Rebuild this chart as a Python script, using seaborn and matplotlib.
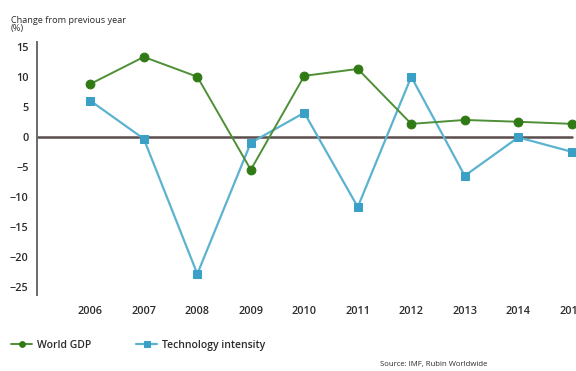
import matplotlib
matplotlib.use("Agg")
import matplotlib.pyplot as plt
import seaborn as sns
import pandas as pd

years = [2006, 2007, 2008, 2009, 2010, 2011, 2012, 2013, 2014, 2015]
world_gdp = [8.9, 13.4, 10.1, -5.4, 10.25, 11.4, 2.25, 2.9, 2.6, 2.25]
tech_intensity = [6.1, -0.25, -22.75, -0.9, 4.1, -11.6, 10.1, -6.4, 0.0, -2.4]
y_ticks = [15, 10, 5, 0, -5, -10, -15, -20, -25]

sns.set_theme(style="white")
plt.rcParams["font.family"] = ["Open Sans", "DejaVu Sans"]

green_line = "#4e8f37"
green_mark = "#2f7a14"
blue_line = "#5bb3cf"
blue_mark = "#3aa0c6"
text_col = "#2b2b2b"

df = pd.DataFrame({
    "year": years * 2,
    "value": world_gdp + tech_intensity,
    "series": ["World GDP"] * len(years) + ["Technology intensity"] * len(years),
})

fig = plt.figure(figsize=(5.76, 3.71), dpi=100)
ax = fig.add_axes([0.064, 0.205, 0.936, 0.682])

ax.axhline(0, xmin=0, xmax=(2015 - 2005) / (2015.08 - 2005), color="#5a4d4d", lw=1.8, zorder=1)

sns.lineplot(data=df[df.series == "World GDP"], x="year", y="value", ax=ax,
             color=green_line, lw=1.4, marker="o", markersize=6.3,
             markerfacecolor=green_mark, markeredgecolor=green_mark,
             label="World GDP", zorder=3)
sns.lineplot(data=df[df.series == "Technology intensity"], x="year", y="value", ax=ax,
             color=blue_line, lw=1.6, marker="s", markersize=6,
             markerfacecolor=blue_mark, markeredgecolor=blue_mark,
             label="Technology intensity", zorder=2)

ax.set_xlim(2005, 2015.08)
ax.set_ylim(-26.25, 15.9)
ax.set_xticks(years)
ax.set_xticklabels([str(y) for y in years])
ax.set_yticks(y_ticks)
ax.set_yticklabels([str(t).replace("-", "\u2212") for t in y_ticks])
ax.set_xlabel("")
ax.set_ylabel("")
ax.tick_params(axis="both", length=0, labelsize=7.8, colors=text_col)
ax.tick_params(axis="y", pad=6)
ax.tick_params(axis="x", pad=8)
for lab in ax.get_xticklabels() + ax.get_yticklabels():
    lab.set_fontweight("semibold")

for side in ["top", "right", "bottom"]:
    ax.spines[side].set_visible(False)
ax.spines["left"].set_color("#6a6a6a")
ax.spines["left"].set_linewidth(1.4)

fig.text(0.019, 0.958, "Change from previous year\n(%)", fontsize=6.6, color=text_col,
         ha="left", va="top", linespacing=0.95)

leg = ax.legend(loc="upper left", bbox_to_anchor=(-0.065, -0.14), ncol=2, frameon=False,
                fontsize=7.5, handlelength=2.0, columnspacing=4.3, handletextpad=0.5,
                markerscale=0.65, labelcolor=text_col)
for t in leg.get_texts():
    t.set_fontweight("semibold")

fig.text(0.66, 0.008, "Source: IMF, Rubin Worldwide", fontsize=5.6, color=text_col,
         ha="left", va="bottom")

fig.savefig("out.png", dpi=100)
